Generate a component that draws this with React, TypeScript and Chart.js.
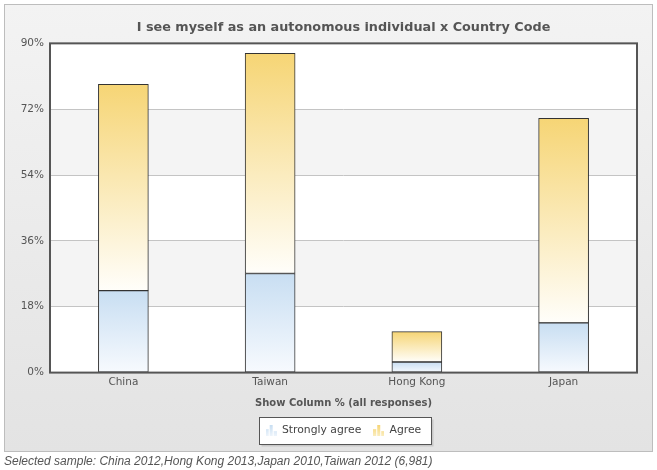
import { useEffect, useRef } from 'react';
import { Chart, registerables } from 'chart.js';

Chart.register(...registerables);

const categories = ['China', 'Taiwan', 'Hong Kong', 'Japan'];
const stronglyAgree = [22.4, 27.1, 2.9, 13.6];
const agree = [56.4, 60.2, 8.3, 55.9];
const seriesNames = ['Strongly agree', 'Agree'];
const yMax = 90;
const yStep = 18;
const chartTitle = 'I see myself as an autonomous individual x Country Code';
const xTitle = 'Show Column % (all responses)';
const footerText = 'Selected sample: China 2012,Hong Kong 2013,Japan 2010,Taiwan 2012 (6,981)';

const BLUE_TOP = '#c8def2';
const BLUE_BOTTOM = '#f7fafe';
const GOLD_TOP = '#f6d575';
const GOLD_BOTTOM = '#fffefa';
const FONT = '"DejaVu Sans", Verdana, sans-serif';

function segmentGradient(ctx: any, top: string, bottom: string) {
  const chart = ctx.chart;
  if (ctx.type !== 'data' || !chart.chartArea) return top;
  const i = ctx.dataIndex;
  const ds = ctx.datasetIndex;
  const start = ds === 0 ? 0 : stronglyAgree[i];
  const end = ds === 0 ? stronglyAgree[i] : stronglyAgree[i] + agree[i];
  const y0 = chart.scales.y.getPixelForValue(end);
  const y1 = chart.scales.y.getPixelForValue(start);
  const g = chart.ctx.createLinearGradient(0, y0, 0, y1);
  g.addColorStop(0, top);
  g.addColorStop(1, bottom);
  return g;
}

function makeIcon(top: string, bottom: string) {
  const c = document.createElement('canvas');
  c.width = 11;
  c.height = 11;
  const x = c.getContext('2d')!;
  const g = x.createLinearGradient(0, 0, 0, 11);
  g.addColorStop(0, top);
  g.addColorStop(1, bottom);
  x.fillStyle = g;
  x.fillRect(0, 4, 3, 7);
  x.fillRect(4, 0, 3, 11);
  x.fillRect(8, 6, 3, 5);
  return c;
}

const panelPlugin = {
  id: 'panel',
  beforeDraw(chart: any) {
    const { ctx, chartArea: a, width, height } = chart;
    const y = chart.scales.y;
    ctx.save();
    ctx.fillStyle = '#ffffff';
    ctx.fillRect(0, 0, width, height);
    const g = ctx.createLinearGradient(0, 4, 0, 452);
    g.addColorStop(0, '#f3f3f3');
    g.addColorStop(1, '#e3e3e3');
    ctx.fillStyle = g;
    ctx.fillRect(4, 4, 649, 448);
    ctx.strokeStyle = '#bdbdbd';
    ctx.lineWidth = 1;
    ctx.strokeRect(4.5, 4.5, 648, 447);
    // plot area
    ctx.fillStyle = '#ffffff';
    ctx.fillRect(a.left, a.top, a.right - a.left, a.bottom - a.top);
    ctx.fillStyle = '#f4f4f4';
    for (let v = yStep; v < yMax; v += 2 * yStep) {
      const yb = y.getPixelForValue(v);
      const yt = y.getPixelForValue(v + yStep);
      ctx.fillRect(a.left, yt, a.right - a.left, yb - yt);
    }
    // legend box
    const lg = chart.legend;
    if (lg && lg.legendHitBoxes && lg.legendHitBoxes.length) {
      const hb = lg.legendHitBoxes;
      const first = hb[0];
      const last = hb[hb.length - 1];
      const l = Math.round(first.left - 7) + 0.5;
      const r = Math.round(last.left + last.width + 10) + 0.5;
      const cy = first.top + first.height / 2;
      const t = Math.round(cy - 13.5) + 0.5;
      const b = t + 27;
      ctx.fillStyle = '#c8c8c8';
      ctx.fillRect(l + 2, t + 2, r - l, b - t);
      ctx.fillStyle = '#ffffff';
      ctx.fillRect(l, t, r - l, b - t);
      ctx.strokeStyle = '#555555';
      ctx.strokeRect(l, t, r - l, b - t);
    }
    // footer
    ctx.fillStyle = '#555555';
    ctx.font = 'italic 12px "Liberation Sans", Arial, sans-serif';
    ctx.textBaseline = 'alphabetic';
    ctx.textAlign = 'left';
    ctx.fillText(footerText, 4, 465);
    ctx.restore();
  },
  afterDatasetsDraw(chart: any) {
    const { ctx, chartArea: a } = chart;
    ctx.save();
    ctx.strokeStyle = '#555555';
    ctx.lineWidth = 2;
    ctx.strokeRect(a.left, a.top, a.right - a.left, a.bottom - a.top);
    ctx.restore();
  },
};

export default function App() {
  const ref = useRef<HTMLCanvasElement>(null);
  useEffect(() => {
    document.body.style.margin = '0';
    const icons = [makeIcon(BLUE_TOP, '#eef5fc'), makeIcon(GOLD_TOP, '#fbeec0')];
    const chart = new Chart(ref.current!, {
      type: 'bar',
      data: {
        labels: categories,
        datasets: [
          {
            label: seriesNames[0],
            data: stronglyAgree,
            backgroundColor: (c: any) => segmentGradient(c, BLUE_TOP, BLUE_BOTTOM),
            borderColor: '#333333',
            borderWidth: 1,
            borderSkipped: false,
            barThickness: 50,
          },
          {
            label: seriesNames[1],
            data: agree,
            backgroundColor: (c: any) => segmentGradient(c, GOLD_TOP, GOLD_BOTTOM),
            borderColor: '#333333',
            borderWidth: 1,
            borderSkipped: false,
            barThickness: 50,
          },
        ],
      },
      options: {
        animation: false,
        responsive: false,
        maintainAspectRatio: false,
        layout: { padding: { left: 4, right: 20, top: 0, bottom: 24 } },
        scales: {
          x: {
            stacked: true,
            grid: { display: false, drawTicks: false },
            border: { display: false },
            ticks: { color: '#555555', font: { family: FONT, size: 10.5 }, padding: 3 },
            title: {
              display: true,
              text: xTitle,
              color: '#555555',
              font: { family: FONT, size: 10, weight: 'bold' },
              padding: { top: 6, bottom: 4 },
            },
          },
          y: {
            stacked: true,
            min: 0,
            max: yMax,
            grid: { color: '#c4c4c4', drawTicks: false, lineWidth: 1 },
            border: { display: false },
            ticks: {
              stepSize: yStep,
              color: '#555555',
              font: { family: FONT, size: 10.5 },
              padding: 6,
              callback: (v: any) => v + '%',
            },
            afterFit: (s: any) => {
              s.width = 46;
            },
          },
        },
        plugins: {
          title: {
            display: true,
            text: chartTitle,
            fullSize: false,
            color: '#555555',
            font: { family: FONT, size: 12.8, weight: 'bold' },
            padding: { top: 20, bottom: 8 },
          },
          legend: {
            position: 'bottom',
            fullSize: false,
            labels: {
              color: '#444444',
              font: { family: FONT, size: 10.8 },
              usePointStyle: true,
              boxWidth: 11,
              padding: 12,
              generateLabels: (ch: any) =>
                ch.data.datasets.map((d: any, i: number) => ({
                  text: d.label,
                  pointStyle: icons[i],
                  fontColor: '#444444',
                  datasetIndex: i,
                  hidden: false,
                  lineWidth: 0,
                })),
            },
          },
          tooltip: { enabled: false },
        },
      },
      plugins: [panelPlugin],
    } as any);
    return () => chart.destroy();
  }, []);
  return <canvas ref={ref} width={657} height={470} style={{ display: 'block' }} />;
}
